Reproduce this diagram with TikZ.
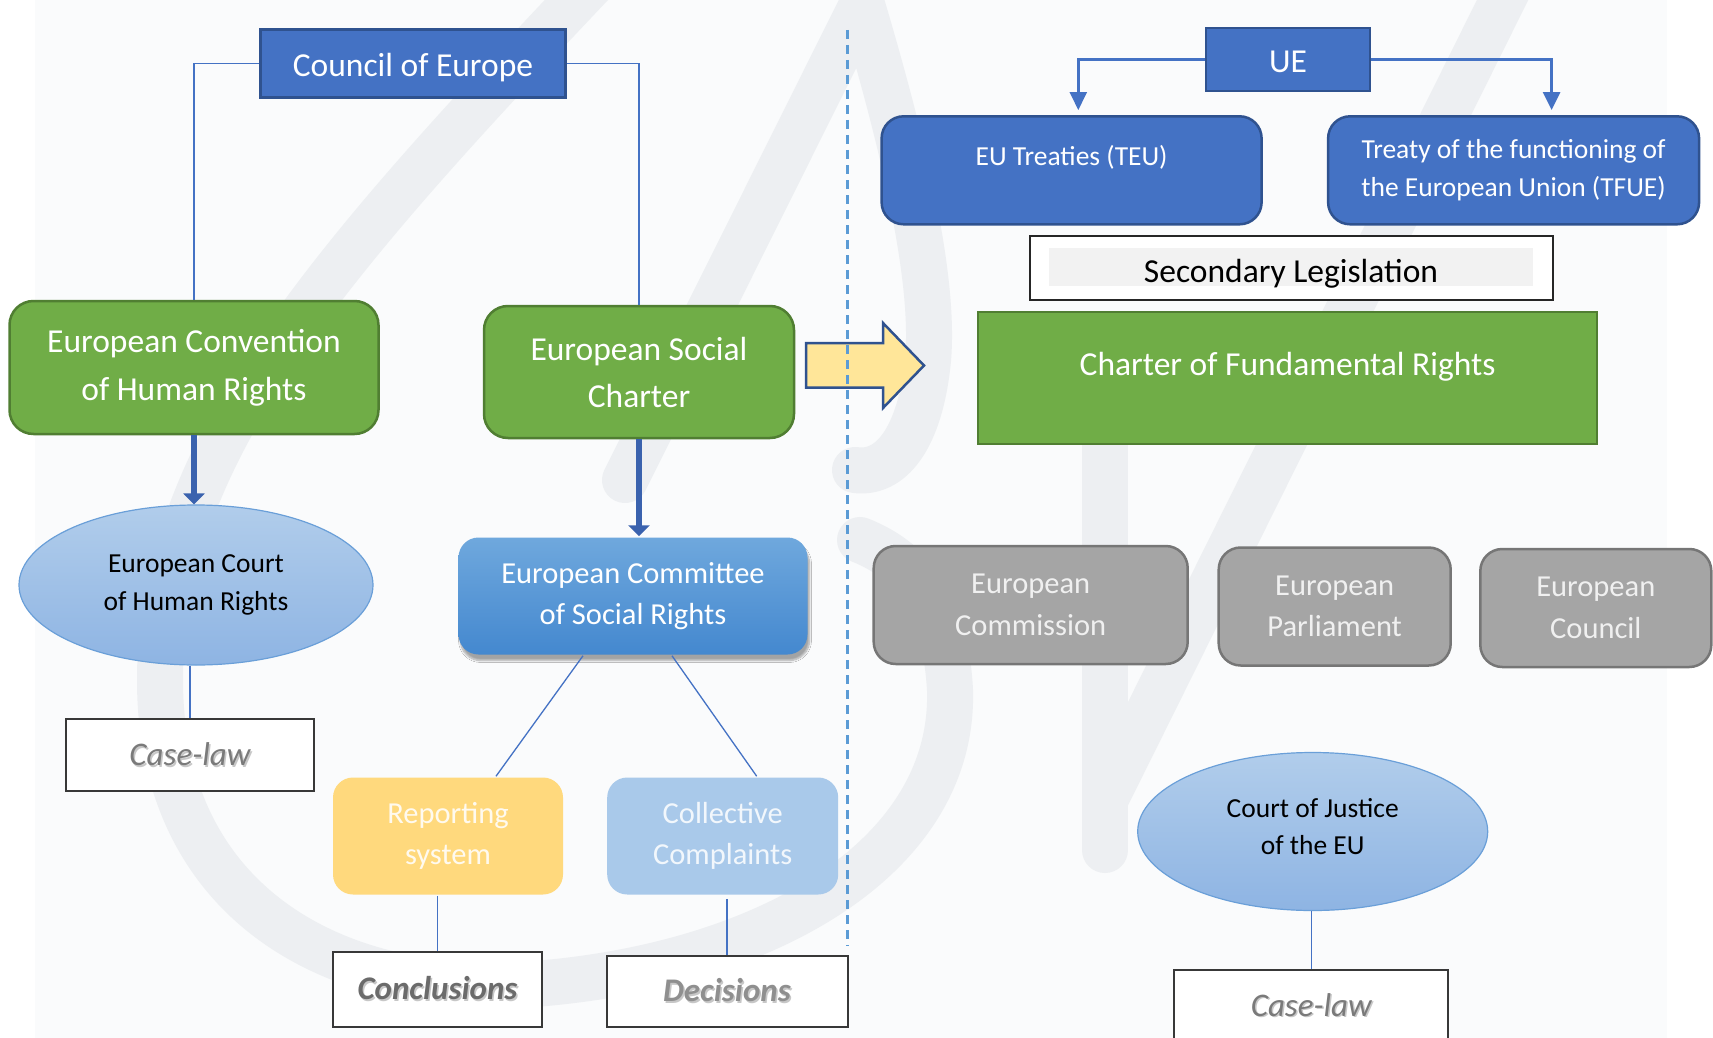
\documentclass[tikz,border=0pt]{standalone}
\usepackage{fontspec}
\setmainfont{Carlito}
\usetikzlibrary{shapes.geometric,arrows.meta,shadows.blur}

\definecolor{coeblue}{HTML}{4472C4}
\definecolor{coeline}{HTML}{2F528F}
\definecolor{feedblue}{HTML}{3A62AE}
\definecolor{charterg}{HTML}{70AD47}
\definecolor{charterline}{HTML}{507E32}
\definecolor{courttop}{HTML}{B1CDEB}
\definecolor{courtbot}{HTML}{8EB4E3}
\definecolor{courtline}{HTML}{6A9FD8}
\definecolor{ecsrtop}{HTML}{6FA8DD}
\definecolor{ecsrbot}{HTML}{4488CF}
\definecolor{repyellow}{HTML}{FFD97D}
\definecolor{collblue}{HTML}{A9C9EA}
\definecolor{organgrey}{HTML}{A5A5A5}
\definecolor{organline}{HTML}{767676}
\definecolor{shiftyellow}{HTML}{FFE699}
\definecolor{sepblue}{HTML}{5B9BD5}
\definecolor{panelbg}{HTML}{FAFBFC}
\definecolor{wmgrey}{HTML}{EDEFF2}

% grey italic labels carry a soft offset copy of themselves
\newcommand\castshadow[1]{\leavevmode\rlap{\kern1.5pt\raisebox{-1.5pt}{\textcolor{black!22}{#1}}}#1}

\tikzset{box/.style={rectangle, inner sep=0pt, align=center, text=white,
           line width=2.5pt, font=\fontsize{33.5}{48}\selectfont},
         dims/.style 2 args={minimum width=#1pt, minimum height=#2pt},
         bluebox/.style={box, fill=coeblue, draw=coeline},
         treaty/.style={bluebox, rounded corners=22pt,
           font=\fontsize{27.5}{37.5}\selectfont},
         greenbox/.style={box, fill=charterg, draw=charterline},
         organ/.style={box, fill=organgrey, draw=organline, rounded corners=22pt,
           text=white!94!black, font=\fontsize{30.5}{41.5}\selectfont},
         method/.style={box, rounded corners=20pt,
           font=\fontsize{30.5}{41.5}\selectfont},
         court/.style={ellipse, inner sep=0pt, align=center, draw=courtline,
           line width=1.2pt, top color=courttop, bottom color=courtbot,
           font=\fontsize{27.5}{38}\selectfont},
         result/.style={box, fill=white, draw=black!78, line width=2pt,
           text=black!52, font=\fontsize{33}{40}\selectfont\itshape},
         link/.style={draw=coeblue, line width=1.3pt},
         feeds/.style={draw=feedblue, line width=6.5pt,
           -{Triangle[length=11pt,width=21pt]}},
         branch/.style={draw=coeblue, line width=2.7pt,
           -{Triangle[length=18pt,width=17pt]}},
         wmark/.style={draw=wmgrey, line width=46pt, line cap=round, line join=round}}

\begin{document}
\begin{tikzpicture}[x=1pt,y=-1pt]
  \useasboundingbox (0,0) rectangle (1713,1038);
  \fill[panelbg] (35,0) rectangle (1667,1038);

  % faint logo behind the chart
  \begin{scope}
    \clip (35,0) rectangle (1667,1038);
    \draw[wmark] (600,-25) .. controls (330,260) and (160,450) .. (160,680)
                 .. controls (160,900) and (330,995) .. (520,985)
                 .. controls (760,970) and (955,860) .. (950,690)
                 .. controls (945,600) and (910,560) .. (860,540);
    \draw[wmark] (625,480) -- (862,5) .. controls (905,150) and (935,280) .. (928,360)
                 .. controls (920,440) and (890,475) .. (855,470);
    \draw[wmark] (1105,440) -- (1105,850);
    \draw[wmark] (1105,800) -- (1515,-25);
  \end{scope}

  % Council of Europe side
  \node[bluebox, dims={305}{68}, text height=25.4pt, text depth=0pt] (coe)
       at (413,63.5) {Council of Europe};
  \node[greenbox, rounded corners=24pt, dims={369}{133}] (echr) at (194,367.5)
       {European Convention\\of Human Rights};
  \node[greenbox, rounded corners=24pt, dims={310}{132}, font=\fontsize{33.5}{47}\selectfont]
       (esc) at (639,372) {European Social\\Charter};
  \node[court, dims={354}{160}] (ecthr) at (196,585) {European Court\\of Human Rights};
  \node[result, dims={248}{72}] (law1) at (190,755.4) {\castshadow{Case-law}};
  \node[method, top color=ecsrtop, bottom color=ecsrbot,
        blur shadow={shadow xshift=2pt, shadow yshift=-6pt, shadow opacity=35,
        shadow blur steps=8}, dims={349}{117}] (ecsr) at (633,596)
       {European Committee\\of Social Rights};
  \node[method, fill=repyellow, text=white!88!repyellow, dims={230}{117}] (report)
       at (448,836) {Reporting\\system};
  \node[method, fill=collblue, text=white!85!collblue, dims={231}{117}] (collect)
       at (722.7,836) {Collective\\Complaints};
  \node[result, text=black!58, font=\fontsize{33}{40}\selectfont\bfseries\itshape,
        dims={209}{75}] (concl) at (437.5,989) {\castshadow{Conclusions}};
  \node[result, text=black!44, font=\fontsize{33}{40}\selectfont\bfseries\itshape,
        dims={241}{71}] (decis) at (727,991) {\castshadow{Decisions}};

  \draw[link] (coe.west) -| (echr.north);
  \draw[link] (coe.east) -| (esc.north);
  \draw[feeds] (echr.south) -- (echr.south |- ecthr.north);
  \draw[feeds] (esc.south) -- (esc.south |- ecsr.north);
  \draw[link] (ecthr.south -| law1.north) -- (law1.north);
  \draw[link] ([xshift=-50pt]ecsr.south) -- ([xshift=48pt]report.north);
  \draw[link] ([xshift=39pt]ecsr.south) -- ([xshift=34pt]collect.north);
  \draw[link] (concl.north |- report.south) -- (concl.north);
  \draw[link] ([yshift=-3pt]decis.north |- collect.south) -- (decis.north);

  % European Union side
  \node[bluebox, dims={164}{63}, text height=26.6pt, text depth=0pt] (ue)
       at (1288,59.7) {UE};
  \node[treaty, dims={380}{108}, text height=0pt, text depth=9pt] (teu)
       at (1071.6,170.3) {EU Treaties (TEU)};
  \node[treaty, dims={371}{108}] (tfue) at (1513.6,170.3)
       {Treaty of the functioning of\\the European Union (TFUE)};
  \node[box, fill=white, draw=black!85, line width=2pt, text=black, dims={523}{64},
        text height=29.4pt, text depth=0pt,
        path picture={\fill[black!5]
          ([xshift=19.5pt,yshift=-12pt]path picture bounding box.north west) rectangle
          ([xshift=-19.5pt,yshift=14pt]path picture bounding box.south east);}]
       (secleg) at (1291,268) {Secondary Legislation};
  \node[greenbox, dims={619}{132}, text height=0pt, text depth=4pt] (charter)
       at (1287.6,377.8) {Charter of Fundamental Rights};
  \node[organ, dims={314}{118}] (commission) at (1030.7,605) {European\\Commission};
  \node[organ, dims={232}{118}] (parliament) at (1334.7,606.5) {European\\Parliament};
  \node[organ, dims={231}{118}] (eucouncil) at (1595.8,608) {European\\Council};
  \node[court, dims={350}{158}, font=\fontsize{27.5}{37}\selectfont] (cjeu)
       at (1312.7,831.5) {Court of Justice\\of the EU\\[-27pt]};
  \node[result, dims={274}{72}] (law2) at (1311.3,1005.8) {\castshadow{Case-law}};

  \draw[branch, shorten >=5pt] (ue.west) -| ([xshift=6.7pt]teu.north);
  \draw[branch, shorten >=5pt] (ue.east) -| ([xshift=38pt]tfue.north);
  \draw[link] (cjeu.south -| law2.north) -- (law2.north);

  % shift from the Social Charter to the EU Charter
  \draw[fill=shiftyellow, draw=coeline, line width=2.5pt, line join=miter]
       (806,343) -- (883,343) -- (883,323) -- (924,365.5) -- (883,408)
       -- (883,387.5) -- (806,387.5) -- cycle;
  \draw[sepblue, line width=2.2pt, dash pattern=on 9pt off 6pt] (847.5,30) -- (847.5,946);
\end{tikzpicture}
\end{document}
